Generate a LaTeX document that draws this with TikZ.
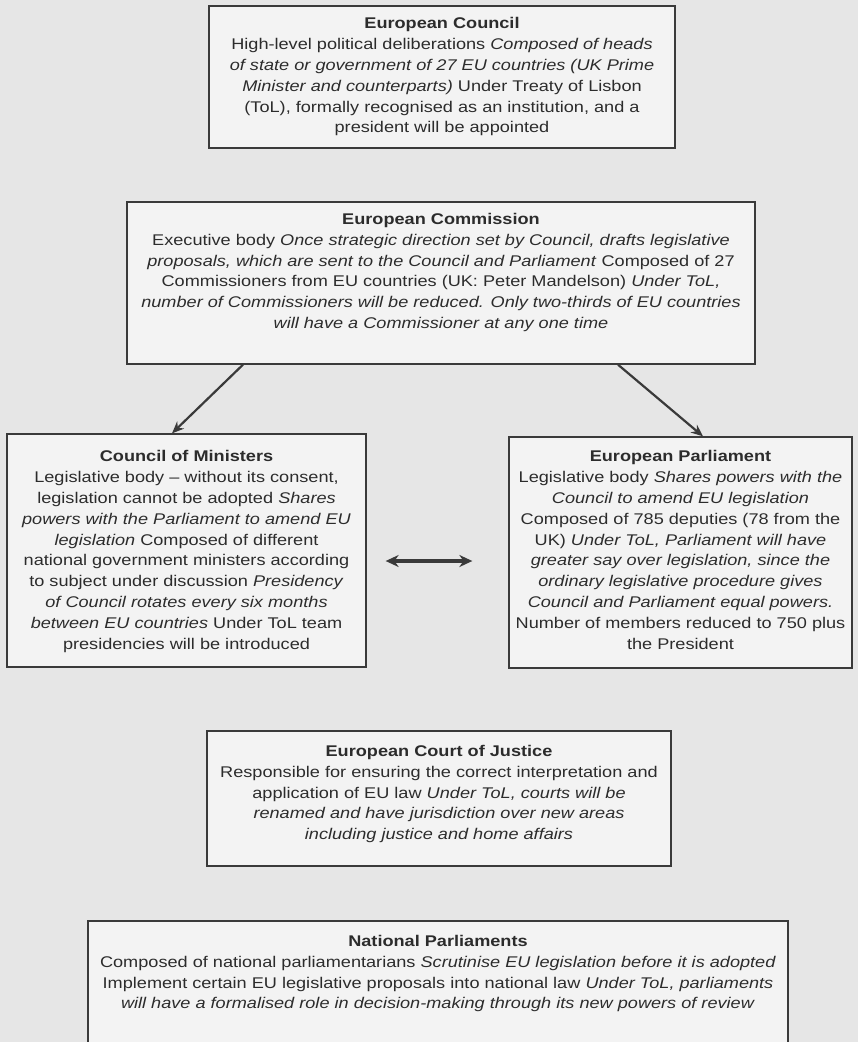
\documentclass[tikz,border=0pt]{standalone}
\usepackage{fontspec}
\setmainfont{Liberation Sans}[FakeStretch=1.17]
\usetikzlibrary{arrows.meta,calc}
\definecolor{bg}{HTML}{E6E6E6}
\definecolor{boxfill}{HTML}{F3F3F3}
\definecolor{ink}{HTML}{2C2C2C}
\definecolor{edge}{HTML}{3A3A3A}
\begin{document}
\begin{tikzpicture}[x=1pt,y=-1pt,
  box/.style={draw=edge, line width=1.3pt, fill=boxfill, inner sep=0pt},
  txt/.style={anchor=north, inner sep=0pt, align=center, text=ink,
    font=\fontsize{15.5}{20.8}\selectfont},
  arr/.style={draw=edge, line width=2.2pt, -{Stealth[length=12pt,width=10pt]}},
  darr/.style={draw=edge, line width=3.4pt, {Stealth[length=13pt,width=12pt]}-{Stealth[length=13pt,width=12pt]}}]
\useasboundingbox (0,0) rectangle (858,1042);
\clip (0,0) rectangle (858,1042);
\fill[bg] (0,0) rectangle (858,1042);

% boxes
\node[box, minimum width=466pt, minimum height=142pt] (ec) at (442,77) {};
\node[box, minimum width=628pt, minimum height=162pt] (com) at (441,283) {};
\node[box, minimum width=359pt, minimum height=233pt] (min) at (186.5,550.5) {};
\node[box, minimum width=343pt, minimum height=231pt] (par) at (680.5,552.5) {};
\node[box, minimum width=464pt, minimum height=135pt] (ecj) at (439,798.5) {};
\node[box, minimum width=700pt, minimum height=160pt] (np) at (438,1001) {};

% texts
\node[txt] (ect) at (442,17.5) {\textbf{European Council}\\
High-level political deliberations \textit{Composed of heads}\\
\textit{of state or government of 27 EU countries (UK Prime}\\
\textit{Minister and counterparts)} Under Treaty of Lisbon\\
(ToL), formally recognised as an institution, and a\\
president will be appointed};

\node[txt] (comt) at (441,213) {\textbf{European Commission}\\
Executive body \textit{Once strategic direction set by Council, drafts legislative}\\
\textit{proposals, which are sent to the Council and Parliament} Composed of 27\\
Commissioners from EU countries (UK: Peter Mandelson) \textit{Under ToL,}\\
\textit{number of Commissioners will be reduced. Only two-thirds of EU countries}\\
\textit{will have a Commissioner at any one time}};

\node[txt] (mint) at (186.5,450.5) {\textbf{Council of Ministers}\\
Legislative body -- without its consent,\\
legislation cannot be adopted \textit{Shares}\\
\textit{powers with the Parliament to amend EU}\\
\textit{legislation} Composed of different\\
national government ministers according\\
to subject under discussion \textit{Presidency}\\
\textit{of Council rotates every six months}\\
\textit{between EU countries} Under ToL team\\
presidencies will be introduced};

\node[txt] (part) at (680.5,450.5) {\textbf{European Parliament}\\
Legislative body \textit{Shares powers with the}\\
\textit{Council to amend EU legislation}\\
Composed of 785 deputies (78 from the\\
UK) \textit{Under ToL, Parliament will have}\\
\textit{greater say over legislation, since the}\\
\textit{ordinary legislative procedure gives}\\
\textit{Council and Parliament equal powers.}\\
Number of members reduced to 750 plus\\
the President};

\node[txt] (ecjt) at (439,745) {\textbf{European Court of Justice}\\
Responsible for ensuring the correct interpretation and\\
application of EU law \textit{Under ToL, courts will be}\\
\textit{renamed and have jurisdiction over new areas}\\
\textit{including justice and home affairs}};

\node[txt] (npt) at (438,935) {\textbf{National Parliaments}\\
Composed of national parliamentarians \textit{Scrutinise EU legislation before it is adopted}\\
Implement certain EU legislative proposals into national law \textit{Under ToL, parliaments}\\
\textit{will have a formalised role in decision-making through its new powers of review}};

% connectors
\draw[arr] ($(com.south)+(-198,0)$) -- ($(min.north)+(-14.5,0)$);
\draw[arr] ($(com.south)+(177,0)$) -- ($(par.north)+(22.5,0)$);
\draw[darr] ($(min.east)+(19,10.5)$) -- ($(par.west)+(-36,8.5)$);
\end{tikzpicture}
\end{document}
